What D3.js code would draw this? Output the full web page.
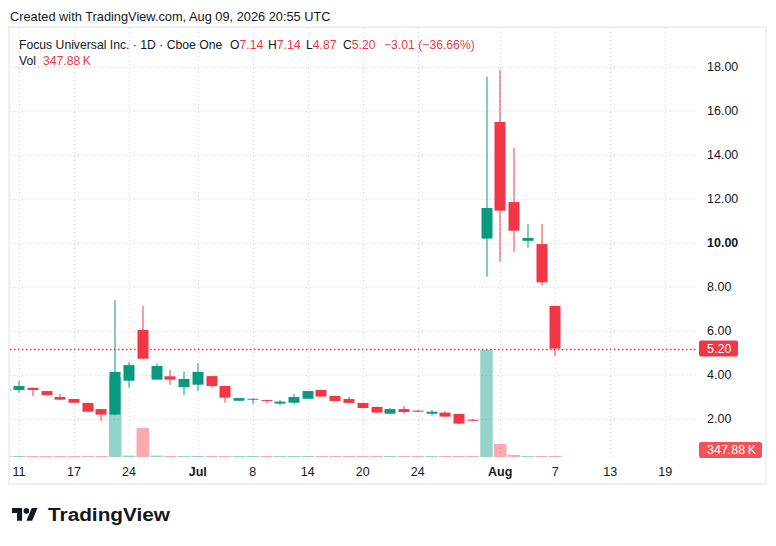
<!DOCTYPE html>
<html>
<head>
<meta charset="utf-8">
<script src="https://cdn.jsdelivr.net/npm/d3@7"></script>
<style>
	body { margin: 0; background: #fff; }
	svg { display: block; font-family: 'Liberation Sans', Arial, sans-serif; }
</style>
</head>
<body>
<svg id="chart"></svg>
<script>
// daily candles, Jun 10 - Aug 7 2026
const dates = ['Jun 10', 'Jun 11', 'Jun 12', 'Jun 15', 'Jun 16', 'Jun 17', 'Jun 18', 'Jun 22', 'Jun 23', 'Jun 24',
	'Jun 25', 'Jun 26', 'Jun 29', 'Jun 30', 'Jul 1', 'Jul 2', 'Jul 6', 'Jul 7', 'Jul 8', 'Jul 9',
	'Jul 10', 'Jul 13', 'Jul 14', 'Jul 15', 'Jul 16', 'Jul 17', 'Jul 20', 'Jul 21', 'Jul 22', 'Jul 23',
	'Jul 24', 'Jul 27', 'Jul 28', 'Jul 29', 'Jul 30', 'Jul 31', 'Aug 3', 'Aug 4', 'Aug 5', 'Aug 6', 'Aug 7'];
const futureDates = ['Aug 10', 'Aug 11', 'Aug 12', 'Aug 13', 'Aug 14', 'Aug 17', 'Aug 18', 'Aug 19'];
const open = [3.29, 3.32, 3.42, 3.27, 3.00, 2.91, 2.73, 2.45, 2.20, 3.74,
	6.05, 3.79, 3.94, 3.45, 3.56, 3.95, 3.50, 2.83, 2.88, 2.86,
	2.70, 2.74, 2.92, 3.32, 3.05, 2.91, 2.73, 2.55, 2.24, 2.45,
	2.38, 2.24, 2.29, 2.23, 1.97, 10.20, 15.50, 11.86, 10.10, 9.95, 7.14];
const high = [3.40, 3.73, 3.43, 3.28, 3.14, 2.92, 2.74, 2.46, 7.41, 4.58,
	7.14, 4.52, 4.23, 4.14, 4.55, 3.96, 3.51, 2.96, 2.93, 2.87,
	2.86, 3.14, 3.28, 3.33, 3.06, 3.02, 2.74, 2.56, 2.50, 2.59,
	2.42, 2.42, 2.35, 2.24, 2.01, 17.56, 17.86, 14.32, 10.86, 10.86, 7.14];
const low = [3.27, 3.20, 3.05, 3.08, 2.85, 2.72, 2.32, 1.92, 2.18, 3.43,
	4.72, 3.78, 3.55, 3.09, 3.27, 3.42, 2.74, 2.81, 2.68, 2.71,
	2.61, 2.67, 2.91, 3.01, 2.81, 2.72, 2.49, 2.28, 2.23, 2.24,
	2.32, 2.15, 2.10, 1.78, 1.91, 8.47, 9.14, 9.60, 9.79, 8.06, 4.87];
const close = [3.38, 3.50, 3.32, 3.09, 2.88, 2.74, 2.33, 2.20, 4.14, 4.45,
	4.74, 4.41, 3.79, 3.82, 4.14, 3.50, 2.97, 2.95, 2.92, 2.82,
	2.79, 3.00, 3.27, 3.02, 2.82, 2.73, 2.50, 2.29, 2.45, 2.32,
	2.33, 2.33, 2.11, 1.79, 1.92, 11.59, 11.47, 10.56, 10.23, 8.21, 5.20];
// volume in shares
const volume = [300e3, 350e3, 200e3, 150e3, 200e3, 150e3, 300e3, 350e3, 28.4e6, 500e3,
	10.4e6, 500e3, 200e3, 250e3, 300e3, 200e3, 300e3, 150e3, 150e3, 120e3,
	150e3, 200e3, 250e3, 200e3, 150e3, 120e3, 150e3, 200e3, 150e3, 150e3,
	100e3, 120e3, 150e3, 300e3, 200e3, 38.0e6, 4.6e6, 750e3, 250e3, 300e3, 347.88e3];

const priceTicks = [2, 4, 6, 8, 10, 12, 14, 16, 18];
const timeTickDates = ['Jun 11', 'Jun 17', 'Jun 24', 'Jul 1', 'Jul 8', 'Jul 14', 'Jul 20', 'Jul 24', 'Aug 3', 'Aug 7', 'Aug 13', 'Aug 19'];
const timeTickLabels = ['11', '17', '24', 'Jul', '8', '14', '20', '24', 'Aug', '7', '13', '19'];

const width = 776;
const height = 546;
const plotLeft = 10;
const plotRight = 696;
const plotTop = 28;
const plotBottom = 458;
const green = '#089981';
const red = '#F23645';
const textColor = '#131722';

const allDates = dates.concat(futureDates);
const data = dates.map((d, i) => ({
	date: d,
	i: i,
	open: open[i],
	high: high[i],
	low: low[i],
	close: close[i],
	volume: volume[i],
	up: close[i] >= open[i],
}));

const svg = d3.select('#chart').attr('width', width).attr('height', height);

// scales
const x = d3.scaleLinear().domain([0, dates.length - 1]).range([5.25, 555.25]);
const y = d3.scaleLinear().domain([0, 18]).range([463, 67]);
const yVol = d3.scaleLinear().domain([0, 38e6]).range([457, 350]);
const bodyW = 11;
const volW = 12.5;

svg.append('text')
	.attr('x', 10)
	.attr('y', 21)
	.attr('font-size', 12.8)
	.attr('fill', textColor)
	.text('Created with TradingView.com, Aug 09, 2026 20:55 UTC');

// chart frame
svg.append('rect')
	.attr('x', 9)
	.attr('y', 27)
	.attr('width', 757)
	.attr('height', 457)
	.attr('fill', '#fff')
	.attr('stroke', '#eef0f3')
	.attr('stroke-width', 2);

svg.append('defs')
	.append('clipPath')
	.attr('id', 'plot-clip')
	.append('rect')
	.attr('x', plotLeft)
	.attr('y', plotTop)
	.attr('width', plotRight - plotLeft)
	.attr('height', plotBottom - plotTop);

// grid
const grid = svg.append('g')
	.attr('stroke', '#d1d4dc')
	.attr('stroke-width', 1)
	.attr('stroke-dasharray', '1,3')
	.attr('shape-rendering', 'crispEdges');
grid.selectAll()
	.data(priceTicks)
	.join('line')
	.attr('x1', plotLeft)
	.attr('x2', plotRight)
	.attr('y1', (d) => Math.round(y(d)) + 0.5)
	.attr('y2', (d) => Math.round(y(d)) + 0.5);
grid.selectAll()
	.data(timeTickDates)
	.join('line')
	.attr('x1', (d) => Math.round(x(allDates.indexOf(d))) + 0.5)
	.attr('x2', (d) => Math.round(x(allDates.indexOf(d))) + 0.5)
	.attr('y1', plotTop)
	.attr('y2', plotBottom);

const plot = svg.append('g').attr('clip-path', 'url(#plot-clip)');

// volume bars
plot.append('g')
	.selectAll()
	.data(data)
	.join('rect')
	.attr('x', (d) => x(d.i) - volW / 2)
	.attr('width', volW)
	.attr('y', (d) => Math.min(yVol(d.volume), yVol(0) - 1))
	.attr('height', (d) => Math.max(yVol(0) - yVol(d.volume), 1))
	.attr('fill', (d) => (d.up ? green : red))
	.attr('fill-opacity', (d) => (d.up ? 0.43 : 0.42));

// last price line
const lastY = y(close[close.length - 1]);
plot.append('line')
	.attr('x1', plotLeft)
	.attr('x2', plotRight)
	.attr('y1', Math.round(lastY) + 0.5)
	.attr('y2', Math.round(lastY) + 0.5)
	.attr('stroke', red)
	.attr('stroke-width', 1.3)
	.attr('stroke-dasharray', '1.5,2.5');

// candles
const candle = plot.append('g')
	.selectAll()
	.data(data)
	.join('g')
	.attr('fill', (d) => (d.up ? green : red));
candle.append('rect')
	.attr('x', (d) => Math.round(x(d.i)) - 0.5)
	.attr('width', 1)
	.attr('y', (d) => y(d.high))
	.attr('height', (d) => y(d.low) - y(d.high));
candle.append('rect')
	.attr('x', (d) => Math.round(x(d.i)) - bodyW / 2)
	.attr('width', bodyW)
	.attr('y', (d) => y(Math.max(d.open, d.close)))
	.attr('height', (d) => Math.max(Math.abs(y(d.open) - y(d.close)), 1));

// price axis
svg.append('g')
	.selectAll()
	.data(priceTicks)
	.join('text')
	.attr('x', 707)
	.attr('y', (d) => y(d))
	.attr('dy', '0.35em')
	.attr('font-size', 12.5)
	.attr('font-weight', (d) => (d === 10 ? 700 : 400))
	.attr('fill', textColor)
	.text((d) => d3.format('.2f')(d));

// last price tag
svg.append('rect')
	.attr('x', 699)
	.attr('y', lastY - 8)
	.attr('width', 39)
	.attr('height', 16)
	.attr('rx', 2)
	.attr('fill', red);
svg.append('text')
	.attr('x', 707)
	.attr('y', lastY)
	.attr('dy', '0.35em')
	.attr('font-size', 12.5)
	.attr('fill', '#fff')
	.text(d3.format('.2f')(close[close.length - 1]));

// last volume tag
svg.append('rect')
	.attr('x', 699)
	.attr('y', 442)
	.attr('width', 63)
	.attr('height', 16)
	.attr('rx', 2)
	.attr('fill', '#F05358');
svg.append('text')
	.attr('x', 707)
	.attr('y', 450)
	.attr('dy', '0.35em')
	.attr('font-size', 12.5)
	.attr('fill', '#fff')
	.text('347.88\u2009K');

// time axis
svg.append('g')
	.selectAll()
	.data(timeTickDates)
	.join('text')
	.attr('x', (d) => x(allDates.indexOf(d)))
	.attr('y', 472)
	.attr('dy', '0.35em')
	.attr('text-anchor', 'middle')
	.attr('font-size', 12.5)
	.attr('font-weight', (d, i) => (/[A-Za-z]/.test(timeTickLabels[i]) ? 700 : 400))
	.attr('fill', textColor)
	.text((d, i) => timeTickLabels[i]);

// legend
const last = data[data.length - 1];
const prev = data[data.length - 2];
const chg = last.close - prev.close;
const fmt = d3.format('.2f');
const legend = svg.append('g').attr('font-size', 12.2);
legend.append('text')
	.attr('x', 19)
	.attr('y', 49)
	.attr('fill', textColor)
	.text('Focus Universal Inc. · 1D · Cboe One');
const ohlc = [
	['O', fmt(last.open), 230],
	['H', fmt(last.high), 268],
	['L', fmt(last.low), 306],
	['C', fmt(last.close), 343],
];
ohlc.forEach(([k, v, px]) => {
	const t = legend.append('text').attr('x', px).attr('y', 49).attr('fill', textColor);
	t.append('tspan').text(k);
	t.append('tspan').attr('fill', red).text(v);
});
legend.append('text')
	.attr('x', 384)
	.attr('y', 49)
	.attr('fill', red)
	.text('\u2212' + fmt(Math.abs(chg)) + ' (\u2212' + fmt(Math.abs(chg / prev.close) * 100) + '%)');
legend.append('text')
	.attr('x', 19)
	.attr('y', 65)
	.attr('fill', textColor)
	.text('Vol');
legend.append('text')
	.attr('x', 43)
	.attr('y', 65)
	.attr('fill', red)
	.text('347.88\u2009K');

// logo
const logo = svg.append('g').attr('fill', textColor);
logo.append('g')
	.attr('transform', 'translate(12,505) scale(0.72)')
	.call((g) => {
		g.append('path').attr('d', 'M14 22H7V11H0V4h14v18zM28 22h-8l7.5-18h8L28 22z');
		g.append('circle').attr('cx', 20).attr('cy', 8).attr('r', 4);
	});
logo.append('text')
	.attr('x', 48)
	.attr('y', 521)
	.attr('font-size', 18)
	.attr('font-weight', 700)
	.attr('textLength', 122)
	.attr('lengthAdjust', 'spacingAndGlyphs')
	.text('TradingView');
</script>
</body>
</html>
